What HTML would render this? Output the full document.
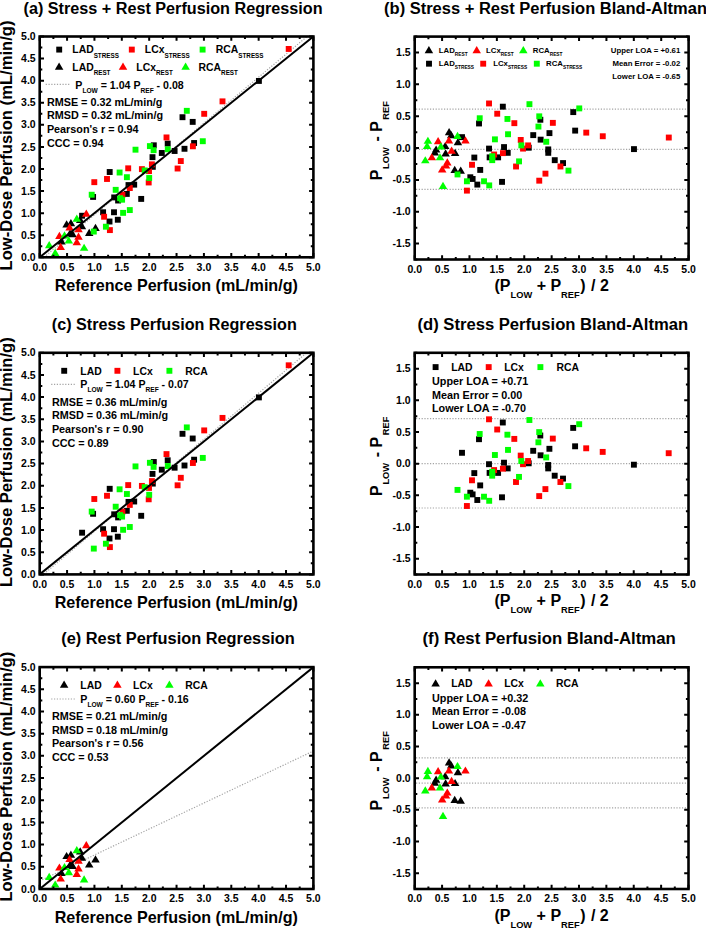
<!DOCTYPE html><html><head><meta charset="utf-8"><style>html,body{margin:0;padding:0;background:#fff;}body{width:706px;height:928px;overflow:hidden;}svg{display:block;}</style></head><body>
<svg width="706" height="928" viewBox="0 0 706 928" font-family='"Liberation Sans", sans-serif'>
<rect width="706" height="928" fill="#fff"/>
<defs>
<clipPath id="clipa"><rect x="39.7" y="36.5" width="273.70" height="220.80"/></clipPath>
<clipPath id="clipb"><rect x="414.7" y="36.6" width="273.90" height="222.90"/></clipPath>
<clipPath id="clipc"><rect x="39.7" y="352.8" width="273.70" height="221.60"/></clipPath>
<clipPath id="clipd"><rect x="414.7" y="352.8" width="273.80" height="221.70"/></clipPath>
<clipPath id="clipe"><rect x="39.7" y="667.1" width="273.70" height="221.90"/></clipPath>
<clipPath id="clipf"><rect x="414.7" y="667.3" width="273.80" height="221.70"/></clipPath>
</defs>
<text x="23.5" y="14.4" font-size="16" font-weight="bold" textLength="299.1" lengthAdjust="spacingAndGlyphs">(a) Stress + Rest Perfusion Regression</text>
<text x="176.25" y="291.10" font-size="16.1" font-weight="bold" text-anchor="middle">Reference Perfusion (mL/min/g)</text>
<text transform="translate(12.40,145.50) rotate(-90)" font-size="16.6" font-weight="bold" text-anchor="middle">Low-Dose Perfusion (mL/min/g)</text>
<g font-size="10" font-weight="bold"><text transform="translate(39.70,270.50) scale(1.05,1)" text-anchor="middle">0.0</text><text transform="translate(67.07,270.50) scale(1.05,1)" text-anchor="middle">0.5</text><text transform="translate(94.44,270.50) scale(1.05,1)" text-anchor="middle">1.0</text><text transform="translate(121.81,270.50) scale(1.05,1)" text-anchor="middle">1.5</text><text transform="translate(149.18,270.50) scale(1.05,1)" text-anchor="middle">2.0</text><text transform="translate(176.55,270.50) scale(1.05,1)" text-anchor="middle">2.5</text><text transform="translate(203.92,270.50) scale(1.05,1)" text-anchor="middle">3.0</text><text transform="translate(231.29,270.50) scale(1.05,1)" text-anchor="middle">3.5</text><text transform="translate(258.66,270.50) scale(1.05,1)" text-anchor="middle">4.0</text><text transform="translate(286.03,270.50) scale(1.05,1)" text-anchor="middle">4.5</text><text transform="translate(313.40,270.50) scale(1.05,1)" text-anchor="middle">5.0</text><text transform="translate(35.70,260.90) scale(1.05,1)" text-anchor="end">0.0</text><text transform="translate(35.70,238.82) scale(1.05,1)" text-anchor="end">0.5</text><text transform="translate(35.70,216.74) scale(1.05,1)" text-anchor="end">1.0</text><text transform="translate(35.70,194.66) scale(1.05,1)" text-anchor="end">1.5</text><text transform="translate(35.70,172.58) scale(1.05,1)" text-anchor="end">2.0</text><text transform="translate(35.70,150.50) scale(1.05,1)" text-anchor="end">2.5</text><text transform="translate(35.70,128.42) scale(1.05,1)" text-anchor="end">3.0</text><text transform="translate(35.70,106.34) scale(1.05,1)" text-anchor="end">3.5</text><text transform="translate(35.70,84.26) scale(1.05,1)" text-anchor="end">4.0</text><text transform="translate(35.70,62.18) scale(1.05,1)" text-anchor="end">4.5</text><text transform="translate(35.70,40.10) scale(1.05,1)" text-anchor="end">5.0</text></g>
<text x="384.1" y="14.4" font-size="16" font-weight="bold" textLength="322.9" lengthAdjust="spacingAndGlyphs">(b) Stress + Rest Perfusion Bland-Altman</text>
<text x="551.65" y="291.30" font-size="16" font-weight="bold" text-anchor="middle">(P<tspan font-size="9.3" dy="7">LOW</tspan><tspan dy="-7"> + P</tspan><tspan font-size="9.3" dy="7">REF</tspan><tspan dy="-7" dx="0.5">)</tspan><tspan dx="1"> / 2</tspan></text>
<text transform="translate(382.30,140.65) rotate(-90)" font-size="16" font-weight="bold" text-anchor="middle">P<tspan font-size="9.3" dy="7" dx="0.6">LOW</tspan><tspan dy="-7" dx="1.3"> - P</tspan><tspan font-size="9.3" dy="7" dx="1.5">REF</tspan></text>
<g font-size="10" font-weight="bold"><text transform="translate(414.70,272.70) scale(1.05,1)" text-anchor="middle">0.0</text><text transform="translate(442.09,272.70) scale(1.05,1)" text-anchor="middle">0.5</text><text transform="translate(469.48,272.70) scale(1.05,1)" text-anchor="middle">1.0</text><text transform="translate(496.87,272.70) scale(1.05,1)" text-anchor="middle">1.5</text><text transform="translate(524.26,272.70) scale(1.05,1)" text-anchor="middle">2.0</text><text transform="translate(551.65,272.70) scale(1.05,1)" text-anchor="middle">2.5</text><text transform="translate(579.04,272.70) scale(1.05,1)" text-anchor="middle">3.0</text><text transform="translate(606.43,272.70) scale(1.05,1)" text-anchor="middle">3.5</text><text transform="translate(633.82,272.70) scale(1.05,1)" text-anchor="middle">4.0</text><text transform="translate(661.21,272.70) scale(1.05,1)" text-anchor="middle">4.5</text><text transform="translate(688.60,272.70) scale(1.05,1)" text-anchor="middle">5.0</text><text transform="translate(410.70,247.18) scale(1.05,1)" text-anchor="end">-1.5</text><text transform="translate(410.70,215.34) scale(1.05,1)" text-anchor="end">-1.0</text><text transform="translate(410.70,183.49) scale(1.05,1)" text-anchor="end">-0.5</text><text transform="translate(410.70,151.65) scale(1.05,1)" text-anchor="end">0.0</text><text transform="translate(410.70,119.81) scale(1.05,1)" text-anchor="end">0.5</text><text transform="translate(410.70,87.96) scale(1.05,1)" text-anchor="end">1.0</text><text transform="translate(410.70,56.12) scale(1.05,1)" text-anchor="end">1.5</text></g>
<text x="51.8" y="329.5" font-size="16" font-weight="bold" textLength="245.0" lengthAdjust="spacingAndGlyphs">(c) Stress Perfusion Regression</text>
<text x="176.25" y="608.20" font-size="16.1" font-weight="bold" text-anchor="middle">Reference Perfusion (mL/min/g)</text>
<text transform="translate(12.40,462.20) rotate(-90)" font-size="16.6" font-weight="bold" text-anchor="middle">Low-Dose Perfusion (mL/min/g)</text>
<g font-size="10" font-weight="bold"><text transform="translate(39.70,587.60) scale(1.05,1)" text-anchor="middle">0.0</text><text transform="translate(67.07,587.60) scale(1.05,1)" text-anchor="middle">0.5</text><text transform="translate(94.44,587.60) scale(1.05,1)" text-anchor="middle">1.0</text><text transform="translate(121.81,587.60) scale(1.05,1)" text-anchor="middle">1.5</text><text transform="translate(149.18,587.60) scale(1.05,1)" text-anchor="middle">2.0</text><text transform="translate(176.55,587.60) scale(1.05,1)" text-anchor="middle">2.5</text><text transform="translate(203.92,587.60) scale(1.05,1)" text-anchor="middle">3.0</text><text transform="translate(231.29,587.60) scale(1.05,1)" text-anchor="middle">3.5</text><text transform="translate(258.66,587.60) scale(1.05,1)" text-anchor="middle">4.0</text><text transform="translate(286.03,587.60) scale(1.05,1)" text-anchor="middle">4.5</text><text transform="translate(313.40,587.60) scale(1.05,1)" text-anchor="middle">5.0</text><text transform="translate(35.70,578.00) scale(1.05,1)" text-anchor="end">0.0</text><text transform="translate(35.70,555.84) scale(1.05,1)" text-anchor="end">0.5</text><text transform="translate(35.70,533.68) scale(1.05,1)" text-anchor="end">1.0</text><text transform="translate(35.70,511.52) scale(1.05,1)" text-anchor="end">1.5</text><text transform="translate(35.70,489.36) scale(1.05,1)" text-anchor="end">2.0</text><text transform="translate(35.70,467.20) scale(1.05,1)" text-anchor="end">2.5</text><text transform="translate(35.70,445.04) scale(1.05,1)" text-anchor="end">3.0</text><text transform="translate(35.70,422.88) scale(1.05,1)" text-anchor="end">3.5</text><text transform="translate(35.70,400.72) scale(1.05,1)" text-anchor="end">4.0</text><text transform="translate(35.70,378.56) scale(1.05,1)" text-anchor="end">4.5</text><text transform="translate(35.70,356.40) scale(1.05,1)" text-anchor="end">5.0</text></g>
<text x="417.5" y="329.5" font-size="16" font-weight="bold" textLength="270.6" lengthAdjust="spacingAndGlyphs">(d) Stress Perfusion Bland-Altman</text>
<text x="551.60" y="606.30" font-size="16" font-weight="bold" text-anchor="middle">(P<tspan font-size="9.3" dy="7">LOW</tspan><tspan dy="-7"> + P</tspan><tspan font-size="9.3" dy="7">REF</tspan><tspan dy="-7" dx="0.5">)</tspan><tspan dx="1"> / 2</tspan></text>
<text transform="translate(382.30,456.25) rotate(-90)" font-size="16" font-weight="bold" text-anchor="middle">P<tspan font-size="9.3" dy="7" dx="0.6">LOW</tspan><tspan dy="-7" dx="1.3"> - P</tspan><tspan font-size="9.3" dy="7" dx="1.5">REF</tspan></text>
<g font-size="10" font-weight="bold"><text transform="translate(414.70,587.70) scale(1.05,1)" text-anchor="middle">0.0</text><text transform="translate(442.08,587.70) scale(1.05,1)" text-anchor="middle">0.5</text><text transform="translate(469.46,587.70) scale(1.05,1)" text-anchor="middle">1.0</text><text transform="translate(496.84,587.70) scale(1.05,1)" text-anchor="middle">1.5</text><text transform="translate(524.22,587.70) scale(1.05,1)" text-anchor="middle">2.0</text><text transform="translate(551.60,587.70) scale(1.05,1)" text-anchor="middle">2.5</text><text transform="translate(578.98,587.70) scale(1.05,1)" text-anchor="middle">3.0</text><text transform="translate(606.36,587.70) scale(1.05,1)" text-anchor="middle">3.5</text><text transform="translate(633.74,587.70) scale(1.05,1)" text-anchor="middle">4.0</text><text transform="translate(661.12,587.70) scale(1.05,1)" text-anchor="middle">4.5</text><text transform="translate(688.50,587.70) scale(1.05,1)" text-anchor="middle">5.0</text><text transform="translate(410.70,562.26) scale(1.05,1)" text-anchor="end">-1.5</text><text transform="translate(410.70,530.59) scale(1.05,1)" text-anchor="end">-1.0</text><text transform="translate(410.70,498.92) scale(1.05,1)" text-anchor="end">-0.5</text><text transform="translate(410.70,467.25) scale(1.05,1)" text-anchor="end">0.0</text><text transform="translate(410.70,435.58) scale(1.05,1)" text-anchor="end">0.5</text><text transform="translate(410.70,403.91) scale(1.05,1)" text-anchor="end">1.0</text><text transform="translate(410.70,372.24) scale(1.05,1)" text-anchor="end">1.5</text></g>
<text x="61.2" y="644.4" font-size="16" font-weight="bold" textLength="233.6" lengthAdjust="spacingAndGlyphs">(e) Rest Perfusion Regression</text>
<text x="176.25" y="922.80" font-size="16.1" font-weight="bold" text-anchor="middle">Reference Perfusion (mL/min/g)</text>
<text transform="translate(12.40,776.65) rotate(-90)" font-size="16.6" font-weight="bold" text-anchor="middle">Low-Dose Perfusion (mL/min/g)</text>
<g font-size="10" font-weight="bold"><text transform="translate(39.70,902.20) scale(1.05,1)" text-anchor="middle">0.0</text><text transform="translate(67.07,902.20) scale(1.05,1)" text-anchor="middle">0.5</text><text transform="translate(94.44,902.20) scale(1.05,1)" text-anchor="middle">1.0</text><text transform="translate(121.81,902.20) scale(1.05,1)" text-anchor="middle">1.5</text><text transform="translate(149.18,902.20) scale(1.05,1)" text-anchor="middle">2.0</text><text transform="translate(176.55,902.20) scale(1.05,1)" text-anchor="middle">2.5</text><text transform="translate(203.92,902.20) scale(1.05,1)" text-anchor="middle">3.0</text><text transform="translate(231.29,902.20) scale(1.05,1)" text-anchor="middle">3.5</text><text transform="translate(258.66,902.20) scale(1.05,1)" text-anchor="middle">4.0</text><text transform="translate(286.03,902.20) scale(1.05,1)" text-anchor="middle">4.5</text><text transform="translate(313.40,902.20) scale(1.05,1)" text-anchor="middle">5.0</text><text transform="translate(35.70,892.60) scale(1.05,1)" text-anchor="end">0.0</text><text transform="translate(35.70,870.41) scale(1.05,1)" text-anchor="end">0.5</text><text transform="translate(35.70,848.22) scale(1.05,1)" text-anchor="end">1.0</text><text transform="translate(35.70,826.03) scale(1.05,1)" text-anchor="end">1.5</text><text transform="translate(35.70,803.84) scale(1.05,1)" text-anchor="end">2.0</text><text transform="translate(35.70,781.65) scale(1.05,1)" text-anchor="end">2.5</text><text transform="translate(35.70,759.46) scale(1.05,1)" text-anchor="end">3.0</text><text transform="translate(35.70,737.27) scale(1.05,1)" text-anchor="end">3.5</text><text transform="translate(35.70,715.08) scale(1.05,1)" text-anchor="end">4.0</text><text transform="translate(35.70,692.89) scale(1.05,1)" text-anchor="end">4.5</text><text transform="translate(35.70,670.70) scale(1.05,1)" text-anchor="end">5.0</text></g>
<text x="422.5" y="644.4" font-size="16" font-weight="bold" textLength="253.3" lengthAdjust="spacingAndGlyphs">(f) Rest Perfusion Bland-Altman</text>
<text x="551.60" y="920.80" font-size="16" font-weight="bold" text-anchor="middle">(P<tspan font-size="9.3" dy="7">LOW</tspan><tspan dy="-7"> + P</tspan><tspan font-size="9.3" dy="7">REF</tspan><tspan dy="-7" dx="0.5">)</tspan><tspan dx="1"> / 2</tspan></text>
<text transform="translate(382.30,770.75) rotate(-90)" font-size="16" font-weight="bold" text-anchor="middle">P<tspan font-size="9.3" dy="7" dx="0.6">LOW</tspan><tspan dy="-7" dx="1.3"> - P</tspan><tspan font-size="9.3" dy="7" dx="1.5">REF</tspan></text>
<g font-size="10" font-weight="bold"><text transform="translate(414.70,902.20) scale(1.05,1)" text-anchor="middle">0.0</text><text transform="translate(442.08,902.20) scale(1.05,1)" text-anchor="middle">0.5</text><text transform="translate(469.46,902.20) scale(1.05,1)" text-anchor="middle">1.0</text><text transform="translate(496.84,902.20) scale(1.05,1)" text-anchor="middle">1.5</text><text transform="translate(524.22,902.20) scale(1.05,1)" text-anchor="middle">2.0</text><text transform="translate(551.60,902.20) scale(1.05,1)" text-anchor="middle">2.5</text><text transform="translate(578.98,902.20) scale(1.05,1)" text-anchor="middle">3.0</text><text transform="translate(606.36,902.20) scale(1.05,1)" text-anchor="middle">3.5</text><text transform="translate(633.74,902.20) scale(1.05,1)" text-anchor="middle">4.0</text><text transform="translate(661.12,902.20) scale(1.05,1)" text-anchor="middle">4.5</text><text transform="translate(688.50,902.20) scale(1.05,1)" text-anchor="middle">5.0</text><text transform="translate(410.70,876.76) scale(1.05,1)" text-anchor="end">-1.5</text><text transform="translate(410.70,845.09) scale(1.05,1)" text-anchor="end">-1.0</text><text transform="translate(410.70,813.42) scale(1.05,1)" text-anchor="end">-0.5</text><text transform="translate(410.70,781.75) scale(1.05,1)" text-anchor="end">0.0</text><text transform="translate(410.70,750.08) scale(1.05,1)" text-anchor="end">0.5</text><text transform="translate(410.70,718.41) scale(1.05,1)" text-anchor="end">1.0</text><text transform="translate(410.70,686.74) scale(1.05,1)" text-anchor="end">1.5</text></g>
<g clip-path="url(#clipa)">
<line x1="39.70" y1="260.83" x2="313.40" y2="31.20" stroke="#a4a4a4" stroke-width="1.2" stroke-dasharray="1.2 1.6" fill="none"/>
</g>
<rect x="79.15" y="212.80" width="5.9" height="5.9" fill="#000000"/><rect x="90.15" y="193.97" width="5.9" height="5.9" fill="#000000"/><rect x="106.75" y="169.06" width="5.9" height="5.9" fill="#000000"/><rect x="125.55" y="182.11" width="5.9" height="5.9" fill="#000000"/><rect x="131.25" y="181.71" width="5.9" height="5.9" fill="#000000"/><rect x="111.25" y="194.47" width="5.9" height="5.9" fill="#000000"/><rect x="123.85" y="190.98" width="5.9" height="5.9" fill="#000000"/><rect x="115.15" y="197.56" width="5.9" height="5.9" fill="#000000"/><rect x="138.25" y="195.96" width="5.9" height="5.9" fill="#000000"/><rect x="100.15" y="209.31" width="5.9" height="5.9" fill="#000000"/><rect x="111.05" y="209.31" width="5.9" height="5.9" fill="#000000"/><rect x="106.55" y="218.58" width="5.9" height="5.9" fill="#000000"/><rect x="114.85" y="216.79" width="5.9" height="5.9" fill="#000000"/><rect x="164.75" y="140.66" width="5.9" height="5.9" fill="#000000"/><rect x="150.85" y="142.36" width="5.9" height="5.9" fill="#000000"/><rect x="158.85" y="150.03" width="5.9" height="5.9" fill="#000000"/><rect x="171.65" y="148.04" width="5.9" height="5.9" fill="#000000"/><rect x="181.55" y="145.84" width="5.9" height="5.9" fill="#000000"/><rect x="191.15" y="140.06" width="5.9" height="5.9" fill="#000000"/><rect x="149.55" y="154.21" width="5.9" height="5.9" fill="#000000"/><rect x="149.85" y="163.88" width="5.9" height="5.9" fill="#000000"/><rect x="179.55" y="114.26" width="5.9" height="5.9" fill="#000000"/><rect x="189.75" y="118.94" width="5.9" height="5.9" fill="#000000"/><rect x="255.95" y="77.99" width="5.9" height="5.9" fill="#000000"/>
<path d="M80.20 215.69L84.45 222.89L75.95 222.89Z" fill="#000000"/><path d="M66.60 220.37L70.85 227.57L62.35 227.57Z" fill="#000000"/><path d="M70.90 219.07L75.15 226.27L66.65 226.27Z" fill="#000000"/><path d="M81.90 222.06L86.15 229.26L77.65 229.26Z" fill="#000000"/><path d="M95.50 223.75L99.75 230.95L91.25 230.95Z" fill="#000000"/><path d="M89.20 228.82L93.45 236.02L84.95 236.02Z" fill="#000000"/><path d="M70.00 229.22L74.25 236.42L65.75 236.42Z" fill="#000000"/><path d="M72.60 230.12L76.85 237.32L68.35 237.32Z" fill="#000000"/><path d="M61.50 237.28L65.75 244.48L57.25 244.48Z" fill="#000000"/>
<rect x="91.35" y="179.22" width="5.9" height="5.9" fill="#ff0000"/><rect x="104.05" y="176.03" width="5.9" height="5.9" fill="#ff0000"/><rect x="125.25" y="165.37" width="5.9" height="5.9" fill="#ff0000"/><rect x="138.95" y="166.17" width="5.9" height="5.9" fill="#ff0000"/><rect x="126.85" y="185.10" width="5.9" height="5.9" fill="#ff0000"/><rect x="119.45" y="191.78" width="5.9" height="5.9" fill="#ff0000"/><rect x="101.15" y="213.80" width="5.9" height="5.9" fill="#ff0000"/><rect x="106.95" y="227.15" width="5.9" height="5.9" fill="#ff0000"/><rect x="163.55" y="134.48" width="5.9" height="5.9" fill="#ff0000"/><rect x="189.95" y="143.35" width="5.9" height="5.9" fill="#ff0000"/><rect x="177.85" y="158.10" width="5.9" height="5.9" fill="#ff0000"/><rect x="174.65" y="165.57" width="5.9" height="5.9" fill="#ff0000"/><rect x="148.95" y="161.39" width="5.9" height="5.9" fill="#ff0000"/><rect x="145.75" y="179.52" width="5.9" height="5.9" fill="#ff0000"/><rect x="201.25" y="110.87" width="5.9" height="5.9" fill="#ff0000"/><rect x="219.55" y="98.41" width="5.9" height="5.9" fill="#ff0000"/><rect x="285.75" y="46.00" width="5.9" height="5.9" fill="#ff0000"/><rect x="146.05" y="168.16" width="5.9" height="5.9" fill="#ff0000"/>
<path d="M86.30 209.52L90.55 216.72L82.05 216.72Z" fill="#ff0000"/><path d="M69.60 223.35L73.85 230.55L65.35 230.55Z" fill="#ff0000"/><path d="M78.50 225.04L82.75 232.24L74.25 232.24Z" fill="#ff0000"/><path d="M59.40 231.81L63.65 239.01L55.15 239.01Z" fill="#ff0000"/><path d="M78.50 232.61L82.75 239.81L74.25 239.81Z" fill="#ff0000"/><path d="M76.80 238.08L81.05 245.28L72.55 245.28Z" fill="#ff0000"/><path d="M60.70 242.75L64.95 249.95L56.45 249.95Z" fill="#ff0000"/>
<rect x="88.75" y="191.78" width="5.9" height="5.9" fill="#00ff00"/><rect x="116.65" y="169.56" width="5.9" height="5.9" fill="#00ff00"/><rect x="123.95" y="174.24" width="5.9" height="5.9" fill="#00ff00"/><rect x="141.75" y="167.46" width="5.9" height="5.9" fill="#00ff00"/><rect x="112.75" y="186.89" width="5.9" height="5.9" fill="#00ff00"/><rect x="117.15" y="195.26" width="5.9" height="5.9" fill="#00ff00"/><rect x="119.15" y="196.76" width="5.9" height="5.9" fill="#00ff00"/><rect x="120.15" y="209.91" width="5.9" height="5.9" fill="#00ff00"/><rect x="126.85" y="207.12" width="5.9" height="5.9" fill="#00ff00"/><rect x="102.95" y="223.76" width="5.9" height="5.9" fill="#00ff00"/><rect x="90.85" y="228.64" width="5.9" height="5.9" fill="#00ff00"/><rect x="146.95" y="143.15" width="5.9" height="5.9" fill="#00ff00"/><rect x="150.65" y="147.24" width="5.9" height="5.9" fill="#00ff00"/><rect x="164.85" y="146.34" width="5.9" height="5.9" fill="#00ff00"/><rect x="146.25" y="175.04" width="5.9" height="5.9" fill="#00ff00"/><rect x="183.85" y="107.88" width="5.9" height="5.9" fill="#00ff00"/><rect x="199.85" y="138.27" width="5.9" height="5.9" fill="#00ff00"/><rect x="132.55" y="146.74" width="5.9" height="5.9" fill="#00ff00"/>
<path d="M76.80 214.59L81.05 221.79L72.55 221.79Z" fill="#00ff00"/><path d="M64.50 231.31L68.75 238.51L60.25 238.51Z" fill="#00ff00"/><path d="M68.80 236.39L73.05 243.59L64.55 243.59Z" fill="#00ff00"/><path d="M49.20 241.06L53.45 248.26L44.95 248.26Z" fill="#00ff00"/><path d="M84.10 243.65L88.35 250.85L79.85 250.85Z" fill="#00ff00"/><path d="M55.20 248.72L59.45 255.92L50.95 255.92Z" fill="#00ff00"/>
<g clip-path="url(#clipa)">
<line x1="39.70" y1="257.30" x2="313.40" y2="36.50" stroke="#000" stroke-width="2"/>
</g>
<rect x="56.25" y="46.65" width="5.9" height="5.9" fill="#000000"/><rect x="128.85" y="46.65" width="5.9" height="5.9" fill="#ff0000"/><rect x="199.65" y="46.65" width="5.9" height="5.9" fill="#00ff00"/>
<text x="72.30" y="53.30" font-size="10.4" font-weight="bold">LAD<tspan font-size="6.3" dy="4.4">STRESS</tspan></text>
<text x="144.80" y="53.30" font-size="10.4" font-weight="bold">LCx<tspan font-size="6.3" dy="4.4">STRESS</tspan></text>
<text x="215.80" y="53.30" font-size="10.4" font-weight="bold">RCA<tspan font-size="6.3" dy="4.4">STRESS</tspan></text>
<path d="M59.10 62.60L63.35 69.80L54.85 69.80Z" fill="#000000"/><path d="M123.00 62.60L127.25 69.80L118.75 69.80Z" fill="#ff0000"/><path d="M185.60 62.60L189.85 69.80L181.35 69.80Z" fill="#00ff00"/>
<text x="72.30" y="70.90" font-size="10.4" font-weight="bold">LAD<tspan font-size="6.3" dy="4.4">REST</tspan></text>
<text x="136.30" y="70.90" font-size="10.4" font-weight="bold">LCx<tspan font-size="6.3" dy="4.4">REST</tspan></text>
<text x="198.60" y="70.90" font-size="10.4" font-weight="bold">RCA<tspan font-size="6.3" dy="4.4">REST</tspan></text>
<line x1="45.7" y1="84.4" x2="70.0" y2="84.4" stroke="#a4a4a4" stroke-width="1.2" stroke-dasharray="1.2 1.6" fill="none"/>
<text x="75.30" y="88.50" font-size="10.6" font-weight="bold">P<tspan font-size="6.6" dy="4.3">LOW</tspan><tspan dy="-4.3"> = 1.04 P</tspan><tspan font-size="6.6" dy="4.3">REF</tspan><tspan dy="-4.3"> - 0.08</tspan></text>
<text x="46.90" y="105.80" font-size="10.8" font-weight="bold">RMSE = 0.32 mL/min/g</text>
<text x="46.90" y="119.40" font-size="10.8" font-weight="bold">RMSD = 0.32 mL/min/g</text>
<text x="46.90" y="132.70" font-size="10.8" font-weight="bold">Pearson's r = 0.94</text>
<text x="46.90" y="146.60" font-size="10.8" font-weight="bold">CCC = 0.94</text>
<g clip-path="url(#clipc)">
<line x1="39.70" y1="577.50" x2="313.40" y2="347.04" stroke="#a4a4a4" stroke-width="1.2" stroke-dasharray="1.2 1.6" fill="none"/>
</g>
<rect x="79.15" y="529.75" width="5.9" height="5.9" fill="#000000"/><rect x="90.15" y="510.85" width="5.9" height="5.9" fill="#000000"/><rect x="106.75" y="485.85" width="5.9" height="5.9" fill="#000000"/><rect x="125.55" y="498.95" width="5.9" height="5.9" fill="#000000"/><rect x="131.25" y="498.55" width="5.9" height="5.9" fill="#000000"/><rect x="111.25" y="511.35" width="5.9" height="5.9" fill="#000000"/><rect x="123.85" y="507.85" width="5.9" height="5.9" fill="#000000"/><rect x="115.15" y="514.45" width="5.9" height="5.9" fill="#000000"/><rect x="138.25" y="512.85" width="5.9" height="5.9" fill="#000000"/><rect x="100.15" y="526.25" width="5.9" height="5.9" fill="#000000"/><rect x="111.05" y="526.25" width="5.9" height="5.9" fill="#000000"/><rect x="106.55" y="535.55" width="5.9" height="5.9" fill="#000000"/><rect x="114.85" y="533.75" width="5.9" height="5.9" fill="#000000"/><rect x="164.75" y="457.35" width="5.9" height="5.9" fill="#000000"/><rect x="150.85" y="459.05" width="5.9" height="5.9" fill="#000000"/><rect x="158.85" y="466.75" width="5.9" height="5.9" fill="#000000"/><rect x="171.65" y="464.75" width="5.9" height="5.9" fill="#000000"/><rect x="181.55" y="462.55" width="5.9" height="5.9" fill="#000000"/><rect x="191.15" y="456.75" width="5.9" height="5.9" fill="#000000"/><rect x="149.55" y="470.95" width="5.9" height="5.9" fill="#000000"/><rect x="149.85" y="480.65" width="5.9" height="5.9" fill="#000000"/><rect x="179.55" y="430.85" width="5.9" height="5.9" fill="#000000"/><rect x="189.75" y="435.55" width="5.9" height="5.9" fill="#000000"/><rect x="255.95" y="394.45" width="5.9" height="5.9" fill="#000000"/>
<rect x="91.35" y="496.05" width="5.9" height="5.9" fill="#ff0000"/><rect x="104.05" y="492.85" width="5.9" height="5.9" fill="#ff0000"/><rect x="125.25" y="482.15" width="5.9" height="5.9" fill="#ff0000"/><rect x="138.95" y="482.95" width="5.9" height="5.9" fill="#ff0000"/><rect x="126.85" y="501.95" width="5.9" height="5.9" fill="#ff0000"/><rect x="119.45" y="508.65" width="5.9" height="5.9" fill="#ff0000"/><rect x="101.15" y="530.75" width="5.9" height="5.9" fill="#ff0000"/><rect x="106.95" y="544.15" width="5.9" height="5.9" fill="#ff0000"/><rect x="163.55" y="451.15" width="5.9" height="5.9" fill="#ff0000"/><rect x="189.95" y="460.05" width="5.9" height="5.9" fill="#ff0000"/><rect x="177.85" y="474.85" width="5.9" height="5.9" fill="#ff0000"/><rect x="174.65" y="482.35" width="5.9" height="5.9" fill="#ff0000"/><rect x="148.95" y="478.15" width="5.9" height="5.9" fill="#ff0000"/><rect x="145.75" y="496.35" width="5.9" height="5.9" fill="#ff0000"/><rect x="201.25" y="427.45" width="5.9" height="5.9" fill="#ff0000"/><rect x="219.55" y="414.95" width="5.9" height="5.9" fill="#ff0000"/><rect x="285.75" y="362.35" width="5.9" height="5.9" fill="#ff0000"/><rect x="146.05" y="484.95" width="5.9" height="5.9" fill="#ff0000"/>
<rect x="88.75" y="508.65" width="5.9" height="5.9" fill="#00ff00"/><rect x="116.65" y="486.35" width="5.9" height="5.9" fill="#00ff00"/><rect x="123.95" y="491.05" width="5.9" height="5.9" fill="#00ff00"/><rect x="141.75" y="484.25" width="5.9" height="5.9" fill="#00ff00"/><rect x="112.75" y="503.75" width="5.9" height="5.9" fill="#00ff00"/><rect x="117.15" y="512.15" width="5.9" height="5.9" fill="#00ff00"/><rect x="119.15" y="513.65" width="5.9" height="5.9" fill="#00ff00"/><rect x="120.15" y="526.85" width="5.9" height="5.9" fill="#00ff00"/><rect x="126.85" y="524.05" width="5.9" height="5.9" fill="#00ff00"/><rect x="102.95" y="540.75" width="5.9" height="5.9" fill="#00ff00"/><rect x="90.85" y="545.65" width="5.9" height="5.9" fill="#00ff00"/><rect x="146.95" y="459.85" width="5.9" height="5.9" fill="#00ff00"/><rect x="150.65" y="463.95" width="5.9" height="5.9" fill="#00ff00"/><rect x="164.85" y="463.05" width="5.9" height="5.9" fill="#00ff00"/><rect x="146.25" y="491.85" width="5.9" height="5.9" fill="#00ff00"/><rect x="183.85" y="424.45" width="5.9" height="5.9" fill="#00ff00"/><rect x="199.85" y="454.95" width="5.9" height="5.9" fill="#00ff00"/><rect x="132.55" y="463.45" width="5.9" height="5.9" fill="#00ff00"/>
<g clip-path="url(#clipc)">
<line x1="39.70" y1="574.40" x2="313.40" y2="352.80" stroke="#000" stroke-width="2"/>
</g>
<rect x="61.25" y="367.85" width="5.9" height="5.9" fill="#000000"/><rect x="114.45" y="367.85" width="5.9" height="5.9" fill="#ff0000"/><rect x="166.45" y="367.85" width="5.9" height="5.9" fill="#00ff00"/>
<text x="80.30" y="374.90" font-size="10.4" font-weight="bold">LAD</text><text x="133.10" y="374.90" font-size="10.4" font-weight="bold">LCx</text><text x="185.30" y="374.90" font-size="10.4" font-weight="bold">RCA</text>
<line x1="51.2" y1="384.4" x2="75.0" y2="384.4" stroke="#a4a4a4" stroke-width="1.2" stroke-dasharray="1.2 1.6" fill="none"/>
<text x="80.30" y="388.10" font-size="10.6" font-weight="bold">P<tspan font-size="6.6" dy="4.3">LOW</tspan><tspan dy="-4.3"> = 1.04 P</tspan><tspan font-size="6.6" dy="4.3">REF</tspan><tspan dy="-4.3"> - 0.07</tspan></text>
<text x="51.90" y="405.80" font-size="10.8" font-weight="bold">RMSE = 0.36 mL/min/g</text>
<text x="51.90" y="419.40" font-size="10.8" font-weight="bold">RMSD = 0.36 mL/min/g</text>
<text x="51.90" y="432.70" font-size="10.8" font-weight="bold">Pearson's r = 0.90</text>
<text x="51.90" y="446.60" font-size="10.8" font-weight="bold">CCC = 0.89</text>
<g clip-path="url(#clipe)">
<line x1="39.70" y1="881.01" x2="313.40" y2="750.98" stroke="#a4a4a4" stroke-width="1.2" stroke-dasharray="1.2 1.6" fill="none"/>
</g>
<path d="M80.20 847.20L84.45 854.40L75.95 854.40Z" fill="#000000"/><path d="M66.60 851.90L70.85 859.10L62.35 859.10Z" fill="#000000"/><path d="M70.90 850.60L75.15 857.80L66.65 857.80Z" fill="#000000"/><path d="M81.90 853.60L86.15 860.80L77.65 860.80Z" fill="#000000"/><path d="M95.50 855.30L99.75 862.50L91.25 862.50Z" fill="#000000"/><path d="M89.20 860.40L93.45 867.60L84.95 867.60Z" fill="#000000"/><path d="M70.00 860.80L74.25 868.00L65.75 868.00Z" fill="#000000"/><path d="M72.60 861.70L76.85 868.90L68.35 868.90Z" fill="#000000"/><path d="M61.50 868.90L65.75 876.10L57.25 876.10Z" fill="#000000"/>
<path d="M86.30 841.00L90.55 848.20L82.05 848.20Z" fill="#ff0000"/><path d="M69.60 854.90L73.85 862.10L65.35 862.10Z" fill="#ff0000"/><path d="M78.50 856.60L82.75 863.80L74.25 863.80Z" fill="#ff0000"/><path d="M59.40 863.40L63.65 870.60L55.15 870.60Z" fill="#ff0000"/><path d="M78.50 864.20L82.75 871.40L74.25 871.40Z" fill="#ff0000"/><path d="M76.80 869.70L81.05 876.90L72.55 876.90Z" fill="#ff0000"/><path d="M60.70 874.40L64.95 881.60L56.45 881.60Z" fill="#ff0000"/>
<path d="M76.80 846.10L81.05 853.30L72.55 853.30Z" fill="#00ff00"/><path d="M64.50 862.90L68.75 870.10L60.25 870.10Z" fill="#00ff00"/><path d="M68.80 868.00L73.05 875.20L64.55 875.20Z" fill="#00ff00"/><path d="M49.20 872.70L53.45 879.90L44.95 879.90Z" fill="#00ff00"/><path d="M84.10 875.30L88.35 882.50L79.85 882.50Z" fill="#00ff00"/><path d="M55.20 880.40L59.45 887.60L50.95 887.60Z" fill="#00ff00"/>
<g clip-path="url(#clipe)">
<line x1="39.70" y1="889.00" x2="313.40" y2="667.10" stroke="#000" stroke-width="2"/>
</g>
<path d="M64.10 680.60L68.35 687.80L59.85 687.80Z" fill="#000000"/><path d="M117.40 680.60L121.65 687.80L113.15 687.80Z" fill="#ff0000"/><path d="M169.40 680.60L173.65 687.80L165.15 687.80Z" fill="#00ff00"/>
<text x="80.30" y="689.10" font-size="10.4" font-weight="bold">LAD</text><text x="133.10" y="689.10" font-size="10.4" font-weight="bold">LCx</text><text x="185.30" y="689.10" font-size="10.4" font-weight="bold">RCA</text>
<line x1="51.2" y1="699.0" x2="75.0" y2="699.0" stroke="#a4a4a4" stroke-width="1.2" stroke-dasharray="1.2 1.6" fill="none"/>
<text x="80.30" y="702.60" font-size="10.6" font-weight="bold">P<tspan font-size="6.6" dy="4.3">LOW</tspan><tspan dy="-4.3"> = 0.60 P</tspan><tspan font-size="6.6" dy="4.3">REF</tspan><tspan dy="-4.3"> - 0.16</tspan></text>
<text x="51.90" y="720.10" font-size="10.8" font-weight="bold">RMSE = 0.21 mL/min/g</text>
<text x="51.90" y="733.60" font-size="10.8" font-weight="bold">RMSD = 0.18 mL/min/g</text>
<text x="51.90" y="747.10" font-size="10.8" font-weight="bold">Pearson's r = 0.56</text>
<text x="51.90" y="760.70" font-size="10.8" font-weight="bold">CCC = 0.53</text>
<line x1="416.00" y1="109.20" x2="687.30" y2="109.20" stroke="#a4a4a4" stroke-width="1.2" stroke-dasharray="1.2 1.6" fill="none"/>
<line x1="416.00" y1="149.32" x2="687.30" y2="149.32" stroke="#a4a4a4" stroke-width="1.2" stroke-dasharray="1.2 1.6" fill="none"/>
<line x1="416.00" y1="189.45" x2="687.30" y2="189.45" stroke="#a4a4a4" stroke-width="1.2" stroke-dasharray="1.2 1.6" fill="none"/>
<rect x="499.88" y="103.73" width="5.9" height="5.9" fill="#000000"/><rect x="476.07" y="120.52" width="5.9" height="5.9" fill="#000000"/><rect x="459.07" y="134.19" width="5.9" height="5.9" fill="#000000"/><rect x="530.29" y="132.18" width="5.9" height="5.9" fill="#000000"/><rect x="525.79" y="144.75" width="5.9" height="5.9" fill="#000000"/><rect x="486.08" y="145.65" width="5.9" height="5.9" fill="#000000"/><rect x="501.08" y="144.14" width="5.9" height="5.9" fill="#000000"/><rect x="504.78" y="149.88" width="5.9" height="5.9" fill="#000000"/><rect x="495.18" y="154.40" width="5.9" height="5.9" fill="#000000"/><rect x="486.68" y="154.40" width="5.9" height="5.9" fill="#000000"/><rect x="471.37" y="154.60" width="5.9" height="5.9" fill="#000000"/><rect x="477.27" y="166.97" width="5.9" height="5.9" fill="#000000"/><rect x="467.37" y="174.31" width="5.9" height="5.9" fill="#000000"/><rect x="469.67" y="176.02" width="5.9" height="5.9" fill="#000000"/><rect x="474.37" y="181.65" width="5.9" height="5.9" fill="#000000"/><rect x="499.08" y="178.93" width="5.9" height="5.9" fill="#000000"/><rect x="570.31" y="109.16" width="5.9" height="5.9" fill="#000000"/><rect x="537.40" y="116.80" width="5.9" height="5.9" fill="#000000"/><rect x="572.21" y="127.66" width="5.9" height="5.9" fill="#000000"/><rect x="546.50" y="130.17" width="5.9" height="5.9" fill="#000000"/><rect x="537.70" y="136.70" width="5.9" height="5.9" fill="#000000"/><rect x="545.30" y="146.46" width="5.9" height="5.9" fill="#000000"/><rect x="545.30" y="149.88" width="5.9" height="5.9" fill="#000000"/><rect x="551.80" y="157.22" width="5.9" height="5.9" fill="#000000"/><rect x="560.10" y="160.13" width="5.9" height="5.9" fill="#000000"/><rect x="631.03" y="146.16" width="5.9" height="5.9" fill="#000000"/>
<path d="M449.11 128.01L453.36 135.21L444.86 135.21Z" fill="#000000"/><path d="M451.21 131.03L455.46 138.23L446.96 138.23Z" fill="#000000"/><path d="M457.92 137.97L462.17 145.17L453.67 145.17Z" fill="#000000"/><path d="M445.21 141.89L449.46 149.09L440.96 149.09Z" fill="#000000"/><path d="M436.11 145.41L440.36 152.61L431.86 152.61Z" fill="#000000"/><path d="M434.81 148.42L439.06 155.62L430.56 155.62Z" fill="#000000"/><path d="M445.61 149.23L449.86 156.43L441.36 156.43Z" fill="#000000"/><path d="M455.11 148.82L459.36 156.02L450.86 156.02Z" fill="#000000"/><path d="M454.71 165.71L458.96 172.91L450.46 172.91Z" fill="#000000"/><path d="M460.72 166.62L464.97 173.82L456.47 173.82Z" fill="#000000"/>
<rect x="486.08" y="100.51" width="5.9" height="5.9" fill="#ff0000"/><rect x="494.28" y="110.77" width="5.9" height="5.9" fill="#ff0000"/><rect x="511.39" y="120.22" width="5.9" height="5.9" fill="#ff0000"/><rect x="517.79" y="137.01" width="5.9" height="5.9" fill="#ff0000"/><rect x="525.19" y="142.44" width="5.9" height="5.9" fill="#ff0000"/><rect x="520.09" y="145.65" width="5.9" height="5.9" fill="#ff0000"/><rect x="499.98" y="150.18" width="5.9" height="5.9" fill="#ff0000"/><rect x="491.18" y="151.58" width="5.9" height="5.9" fill="#ff0000"/><rect x="469.07" y="161.84" width="5.9" height="5.9" fill="#ff0000"/><rect x="513.09" y="163.55" width="5.9" height="5.9" fill="#ff0000"/><rect x="463.97" y="187.68" width="5.9" height="5.9" fill="#ff0000"/><rect x="549.90" y="119.91" width="5.9" height="5.9" fill="#ff0000"/><rect x="583.31" y="129.67" width="5.9" height="5.9" fill="#ff0000"/><rect x="599.82" y="133.29" width="5.9" height="5.9" fill="#ff0000"/><rect x="557.50" y="163.55" width="5.9" height="5.9" fill="#ff0000"/><rect x="542.50" y="170.69" width="5.9" height="5.9" fill="#ff0000"/><rect x="536.30" y="177.73" width="5.9" height="5.9" fill="#ff0000"/><rect x="665.84" y="134.59" width="5.9" height="5.9" fill="#ff0000"/>
<path d="M438.11 136.96L442.36 144.16L433.86 144.16Z" fill="#ff0000"/><path d="M448.91 136.26L453.16 143.46L444.66 143.46Z" fill="#ff0000"/><path d="M465.42 136.26L469.67 143.46L461.17 143.46Z" fill="#ff0000"/><path d="M451.61 146.61L455.86 153.81L447.36 153.81Z" fill="#ff0000"/><path d="M431.81 153.15L436.06 160.35L427.56 160.35Z" fill="#ff0000"/><path d="M447.31 158.37L451.56 165.57L443.06 165.57Z" fill="#ff0000"/><path d="M446.01 161.39L450.26 168.59L441.76 168.59Z" fill="#ff0000"/><path d="M442.21 165.31L446.46 172.51L437.96 172.51Z" fill="#ff0000"/>
<rect x="526.49" y="101.21" width="5.9" height="5.9" fill="#00ff00"/><rect x="476.77" y="115.29" width="5.9" height="5.9" fill="#00ff00"/><rect x="504.48" y="115.99" width="5.9" height="5.9" fill="#00ff00"/><rect x="505.08" y="131.28" width="5.9" height="5.9" fill="#00ff00"/><rect x="491.98" y="136.40" width="5.9" height="5.9" fill="#00ff00"/><rect x="518.39" y="142.44" width="5.9" height="5.9" fill="#00ff00"/><rect x="489.28" y="153.29" width="5.9" height="5.9" fill="#00ff00"/><rect x="489.28" y="157.22" width="5.9" height="5.9" fill="#00ff00"/><rect x="454.57" y="171.49" width="5.9" height="5.9" fill="#00ff00"/><rect x="463.97" y="178.33" width="5.9" height="5.9" fill="#00ff00"/><rect x="481.08" y="178.33" width="5.9" height="5.9" fill="#00ff00"/><rect x="486.28" y="182.45" width="5.9" height="5.9" fill="#00ff00"/><rect x="516.09" y="158.42" width="5.9" height="5.9" fill="#00ff00"/><rect x="576.31" y="105.44" width="5.9" height="5.9" fill="#00ff00"/><rect x="536.30" y="113.38" width="5.9" height="5.9" fill="#00ff00"/><rect x="535.50" y="123.63" width="5.9" height="5.9" fill="#00ff00"/><rect x="543.30" y="138.82" width="5.9" height="5.9" fill="#00ff00"/><rect x="565.51" y="167.67" width="5.9" height="5.9" fill="#00ff00"/>
<path d="M457.52 131.73L461.77 138.93L453.27 138.93Z" fill="#00ff00"/><path d="M427.90 136.66L432.15 143.86L423.65 143.86Z" fill="#00ff00"/><path d="M427.10 141.89L431.35 149.09L422.85 149.09Z" fill="#00ff00"/><path d="M440.91 142.29L445.16 149.49L436.66 149.49Z" fill="#00ff00"/><path d="M440.01 153.15L444.26 160.35L435.76 160.35Z" fill="#00ff00"/><path d="M425.30 156.16L429.55 163.36L421.05 163.36Z" fill="#00ff00"/><path d="M443.01 181.80L447.26 189.00L438.76 189.00Z" fill="#00ff00"/>
<path d="M428.90 46.00L433.15 53.20L424.65 53.20Z" fill="#000000"/><path d="M476.70 46.00L480.95 53.20L472.45 53.20Z" fill="#ff0000"/><path d="M523.30 46.00L527.55 53.20L519.05 53.20Z" fill="#00ff00"/>
<text x="438.80" y="53.00" font-size="7.8" font-weight="bold">LAD<tspan font-size="4.8" dy="3.3">REST</tspan></text>
<text x="486.10" y="53.00" font-size="7.8" font-weight="bold">LCx<tspan font-size="4.8" dy="3.3">REST</tspan></text>
<text x="532.80" y="53.00" font-size="7.8" font-weight="bold">RCA<tspan font-size="4.8" dy="3.3">REST</tspan></text>
<rect x="426.05" y="60.75" width="5.9" height="5.9" fill="#000000"/><rect x="480.25" y="60.75" width="5.9" height="5.9" fill="#ff0000"/><rect x="533.85" y="60.75" width="5.9" height="5.9" fill="#00ff00"/>
<text x="438.80" y="66.00" font-size="7.8" font-weight="bold">LAD<tspan font-size="4.8" dy="3.3">STRESS</tspan></text>
<text x="493.20" y="66.00" font-size="7.8" font-weight="bold">LCx<tspan font-size="4.8" dy="3.3">STRESS</tspan></text>
<text x="546.10" y="66.00" font-size="7.8" font-weight="bold">RCA<tspan font-size="4.8" dy="3.3">STRESS</tspan></text>
<text x="680.30" y="52.90" font-size="7.8" font-weight="bold" text-anchor="end">Upper LOA = +0.61</text>
<text x="680.30" y="65.90" font-size="7.8" font-weight="bold" text-anchor="end">Mean Error = -0.02</text>
<text x="680.30" y="79.00" font-size="7.8" font-weight="bold" text-anchor="end">Lower LOA = -0.65</text>
<line x1="416.00" y1="418.68" x2="687.20" y2="418.68" stroke="#a4a4a4" stroke-width="1.2" stroke-dasharray="1.2 1.6" fill="none"/>
<line x1="416.00" y1="463.65" x2="687.20" y2="463.65" stroke="#a4a4a4" stroke-width="1.2" stroke-dasharray="1.2 1.6" fill="none"/>
<line x1="416.00" y1="507.99" x2="687.20" y2="507.99" stroke="#a4a4a4" stroke-width="1.2" stroke-dasharray="1.2 1.6" fill="none"/>
<rect x="499.85" y="419.55" width="5.9" height="5.9" fill="#000000"/><rect x="476.05" y="436.25" width="5.9" height="5.9" fill="#000000"/><rect x="459.05" y="449.85" width="5.9" height="5.9" fill="#000000"/><rect x="530.25" y="447.85" width="5.9" height="5.9" fill="#000000"/><rect x="525.75" y="460.35" width="5.9" height="5.9" fill="#000000"/><rect x="486.05" y="461.25" width="5.9" height="5.9" fill="#000000"/><rect x="501.05" y="459.75" width="5.9" height="5.9" fill="#000000"/><rect x="504.75" y="465.45" width="5.9" height="5.9" fill="#000000"/><rect x="495.15" y="469.95" width="5.9" height="5.9" fill="#000000"/><rect x="486.65" y="469.95" width="5.9" height="5.9" fill="#000000"/><rect x="471.35" y="470.15" width="5.9" height="5.9" fill="#000000"/><rect x="477.25" y="482.45" width="5.9" height="5.9" fill="#000000"/><rect x="467.35" y="489.75" width="5.9" height="5.9" fill="#000000"/><rect x="469.65" y="491.45" width="5.9" height="5.9" fill="#000000"/><rect x="474.35" y="497.05" width="5.9" height="5.9" fill="#000000"/><rect x="499.05" y="494.35" width="5.9" height="5.9" fill="#000000"/><rect x="570.25" y="424.95" width="5.9" height="5.9" fill="#000000"/><rect x="537.35" y="432.55" width="5.9" height="5.9" fill="#000000"/><rect x="572.15" y="443.35" width="5.9" height="5.9" fill="#000000"/><rect x="546.45" y="445.85" width="5.9" height="5.9" fill="#000000"/><rect x="537.65" y="452.35" width="5.9" height="5.9" fill="#000000"/><rect x="545.25" y="462.05" width="5.9" height="5.9" fill="#000000"/><rect x="545.25" y="465.45" width="5.9" height="5.9" fill="#000000"/><rect x="551.75" y="472.75" width="5.9" height="5.9" fill="#000000"/><rect x="560.05" y="475.65" width="5.9" height="5.9" fill="#000000"/><rect x="630.95" y="461.75" width="5.9" height="5.9" fill="#000000"/>
<rect x="486.05" y="416.35" width="5.9" height="5.9" fill="#ff0000"/><rect x="494.25" y="426.55" width="5.9" height="5.9" fill="#ff0000"/><rect x="511.35" y="435.95" width="5.9" height="5.9" fill="#ff0000"/><rect x="517.75" y="452.65" width="5.9" height="5.9" fill="#ff0000"/><rect x="525.15" y="458.05" width="5.9" height="5.9" fill="#ff0000"/><rect x="520.05" y="461.25" width="5.9" height="5.9" fill="#ff0000"/><rect x="499.95" y="465.75" width="5.9" height="5.9" fill="#ff0000"/><rect x="491.15" y="467.15" width="5.9" height="5.9" fill="#ff0000"/><rect x="469.05" y="477.35" width="5.9" height="5.9" fill="#ff0000"/><rect x="513.05" y="479.05" width="5.9" height="5.9" fill="#ff0000"/><rect x="463.95" y="503.05" width="5.9" height="5.9" fill="#ff0000"/><rect x="549.85" y="435.65" width="5.9" height="5.9" fill="#ff0000"/><rect x="583.25" y="445.35" width="5.9" height="5.9" fill="#ff0000"/><rect x="599.75" y="448.95" width="5.9" height="5.9" fill="#ff0000"/><rect x="557.45" y="479.05" width="5.9" height="5.9" fill="#ff0000"/><rect x="542.45" y="486.15" width="5.9" height="5.9" fill="#ff0000"/><rect x="536.25" y="493.15" width="5.9" height="5.9" fill="#ff0000"/><rect x="665.75" y="450.25" width="5.9" height="5.9" fill="#ff0000"/>
<rect x="526.45" y="417.05" width="5.9" height="5.9" fill="#00ff00"/><rect x="476.75" y="431.05" width="5.9" height="5.9" fill="#00ff00"/><rect x="504.45" y="431.75" width="5.9" height="5.9" fill="#00ff00"/><rect x="505.05" y="446.95" width="5.9" height="5.9" fill="#00ff00"/><rect x="491.95" y="452.05" width="5.9" height="5.9" fill="#00ff00"/><rect x="518.35" y="458.05" width="5.9" height="5.9" fill="#00ff00"/><rect x="489.25" y="468.85" width="5.9" height="5.9" fill="#00ff00"/><rect x="489.25" y="472.75" width="5.9" height="5.9" fill="#00ff00"/><rect x="454.55" y="486.95" width="5.9" height="5.9" fill="#00ff00"/><rect x="463.95" y="493.75" width="5.9" height="5.9" fill="#00ff00"/><rect x="481.05" y="493.75" width="5.9" height="5.9" fill="#00ff00"/><rect x="486.25" y="497.85" width="5.9" height="5.9" fill="#00ff00"/><rect x="516.05" y="473.95" width="5.9" height="5.9" fill="#00ff00"/><rect x="576.25" y="421.25" width="5.9" height="5.9" fill="#00ff00"/><rect x="536.25" y="429.15" width="5.9" height="5.9" fill="#00ff00"/><rect x="535.45" y="439.35" width="5.9" height="5.9" fill="#00ff00"/><rect x="543.25" y="454.45" width="5.9" height="5.9" fill="#00ff00"/><rect x="565.45" y="483.15" width="5.9" height="5.9" fill="#00ff00"/>
<rect x="432.65" y="364.15" width="5.9" height="5.9" fill="#000000"/><rect x="485.75" y="364.15" width="5.9" height="5.9" fill="#ff0000"/><rect x="537.45" y="364.15" width="5.9" height="5.9" fill="#00ff00"/>
<text x="451.20" y="370.90" font-size="10.4" font-weight="bold">LAD</text><text x="504.20" y="370.90" font-size="10.4" font-weight="bold">LCx</text><text x="556.50" y="370.90" font-size="10.4" font-weight="bold">RCA</text>
<text x="432.00" y="385.00" font-size="10.8" font-weight="bold">Upper LOA = +0.71</text>
<text x="432.00" y="398.60" font-size="10.8" font-weight="bold">Mean Error = 0.00</text>
<text x="432.00" y="412.30" font-size="10.8" font-weight="bold">Lower LOA = -0.70</text>
<line x1="416.00" y1="757.88" x2="687.20" y2="757.88" stroke="#a4a4a4" stroke-width="1.2" stroke-dasharray="1.2 1.6" fill="none"/>
<line x1="416.00" y1="783.22" x2="687.20" y2="783.22" stroke="#a4a4a4" stroke-width="1.2" stroke-dasharray="1.2 1.6" fill="none"/>
<line x1="416.00" y1="807.92" x2="687.20" y2="807.92" stroke="#a4a4a4" stroke-width="1.2" stroke-dasharray="1.2 1.6" fill="none"/>
<path d="M449.10 758.20L453.35 765.40L444.85 765.40Z" fill="#000000"/><path d="M451.20 761.20L455.45 768.40L446.95 768.40Z" fill="#000000"/><path d="M457.90 768.10L462.15 775.30L453.65 775.30Z" fill="#000000"/><path d="M445.20 772.00L449.45 779.20L440.95 779.20Z" fill="#000000"/><path d="M436.10 775.50L440.35 782.70L431.85 782.70Z" fill="#000000"/><path d="M434.80 778.50L439.05 785.70L430.55 785.70Z" fill="#000000"/><path d="M445.60 779.30L449.85 786.50L441.35 786.50Z" fill="#000000"/><path d="M455.10 778.90L459.35 786.10L450.85 786.10Z" fill="#000000"/><path d="M454.70 795.70L458.95 802.90L450.45 802.90Z" fill="#000000"/><path d="M460.70 796.60L464.95 803.80L456.45 803.80Z" fill="#000000"/>
<path d="M438.10 767.10L442.35 774.30L433.85 774.30Z" fill="#ff0000"/><path d="M448.90 766.40L453.15 773.60L444.65 773.60Z" fill="#ff0000"/><path d="M465.40 766.40L469.65 773.60L461.15 773.60Z" fill="#ff0000"/><path d="M451.60 776.70L455.85 783.90L447.35 783.90Z" fill="#ff0000"/><path d="M431.80 783.20L436.05 790.40L427.55 790.40Z" fill="#ff0000"/><path d="M447.30 788.40L451.55 795.60L443.05 795.60Z" fill="#ff0000"/><path d="M446.00 791.40L450.25 798.60L441.75 798.60Z" fill="#ff0000"/><path d="M442.20 795.30L446.45 802.50L437.95 802.50Z" fill="#ff0000"/>
<path d="M457.50 761.90L461.75 769.10L453.25 769.10Z" fill="#00ff00"/><path d="M427.90 766.80L432.15 774.00L423.65 774.00Z" fill="#00ff00"/><path d="M427.10 772.00L431.35 779.20L422.85 779.20Z" fill="#00ff00"/><path d="M440.90 772.40L445.15 779.60L436.65 779.60Z" fill="#00ff00"/><path d="M440.00 783.20L444.25 790.40L435.75 790.40Z" fill="#00ff00"/><path d="M425.30 786.20L429.55 793.40L421.05 793.40Z" fill="#00ff00"/><path d="M443.00 811.70L447.25 818.90L438.75 818.90Z" fill="#00ff00"/>
<path d="M435.60 679.20L439.85 686.40L431.35 686.40Z" fill="#000000"/><path d="M488.60 679.20L492.85 686.40L484.35 686.40Z" fill="#ff0000"/><path d="M540.30 679.20L544.55 686.40L536.05 686.40Z" fill="#00ff00"/>
<text x="451.20" y="687.40" font-size="10.4" font-weight="bold">LAD</text><text x="504.20" y="687.40" font-size="10.4" font-weight="bold">LCx</text><text x="556.00" y="687.40" font-size="10.4" font-weight="bold">RCA</text>
<text x="432.00" y="701.50" font-size="10.8" font-weight="bold">Upper LOA = +0.32</text>
<text x="432.00" y="715.40" font-size="10.8" font-weight="bold">Mean Error = -0.08</text>
<text x="432.00" y="729.00" font-size="10.8" font-weight="bold">Lower LOA = -0.47</text>
<rect x="39.7" y="36.5" width="273.70" height="220.80" fill="none" stroke="#000" stroke-width="2.6"/>
<path d="M39.70 257.30v-4.3 M39.70 36.50v4.3 M53.39 257.30v-2.6 M53.39 36.50v2.6 M67.07 257.30v-4.3 M67.07 36.50v4.3 M80.75 257.30v-2.6 M80.75 36.50v2.6 M94.44 257.30v-4.3 M94.44 36.50v4.3 M108.12 257.30v-2.6 M108.12 36.50v2.6 M121.81 257.30v-4.3 M121.81 36.50v4.3 M135.50 257.30v-2.6 M135.50 36.50v2.6 M149.18 257.30v-4.3 M149.18 36.50v4.3 M162.87 257.30v-2.6 M162.87 36.50v2.6 M176.55 257.30v-4.3 M176.55 36.50v4.3 M190.24 257.30v-2.6 M190.24 36.50v2.6 M203.92 257.30v-4.3 M203.92 36.50v4.3 M217.61 257.30v-2.6 M217.61 36.50v2.6 M231.29 257.30v-4.3 M231.29 36.50v4.3 M244.97 257.30v-2.6 M244.97 36.50v2.6 M258.66 257.30v-4.3 M258.66 36.50v4.3 M272.34 257.30v-2.6 M272.34 36.50v2.6 M286.03 257.30v-4.3 M286.03 36.50v4.3 M299.71 257.30v-2.6 M299.71 36.50v2.6 M313.40 257.30v-4.3 M313.40 36.50v4.3 M39.70 257.30h4.3 M313.40 257.30h-4.3 M39.70 246.26h2.6 M313.40 246.26h-2.6 M39.70 235.22h4.3 M313.40 235.22h-4.3 M39.70 224.18h2.6 M313.40 224.18h-2.6 M39.70 213.14h4.3 M313.40 213.14h-4.3 M39.70 202.10h2.6 M313.40 202.10h-2.6 M39.70 191.06h4.3 M313.40 191.06h-4.3 M39.70 180.02h2.6 M313.40 180.02h-2.6 M39.70 168.98h4.3 M313.40 168.98h-4.3 M39.70 157.94h2.6 M313.40 157.94h-2.6 M39.70 146.90h4.3 M313.40 146.90h-4.3 M39.70 135.86h2.6 M313.40 135.86h-2.6 M39.70 124.82h4.3 M313.40 124.82h-4.3 M39.70 113.78h2.6 M313.40 113.78h-2.6 M39.70 102.74h4.3 M313.40 102.74h-4.3 M39.70 91.70h2.6 M313.40 91.70h-2.6 M39.70 80.66h4.3 M313.40 80.66h-4.3 M39.70 69.62h2.6 M313.40 69.62h-2.6 M39.70 58.58h4.3 M313.40 58.58h-4.3 M39.70 47.54h2.6 M313.40 47.54h-2.6 M39.70 36.50h4.3 M313.40 36.50h-4.3" stroke="#000" stroke-width="2.0" fill="none"/>
<rect x="414.7" y="36.6" width="273.90" height="222.90" fill="none" stroke="#000" stroke-width="2.6"/>
<path d="M414.70 259.50v-4.3 M414.70 36.60v4.3 M428.39 259.50v-2.6 M428.39 36.60v2.6 M442.09 259.50v-4.3 M442.09 36.60v4.3 M455.78 259.50v-2.6 M455.78 36.60v2.6 M469.48 259.50v-4.3 M469.48 36.60v4.3 M483.18 259.50v-2.6 M483.18 36.60v2.6 M496.87 259.50v-4.3 M496.87 36.60v4.3 M510.56 259.50v-2.6 M510.56 36.60v2.6 M524.26 259.50v-4.3 M524.26 36.60v4.3 M537.96 259.50v-2.6 M537.96 36.60v2.6 M551.65 259.50v-4.3 M551.65 36.60v4.3 M565.35 259.50v-2.6 M565.35 36.60v2.6 M579.04 259.50v-4.3 M579.04 36.60v4.3 M592.74 259.50v-2.6 M592.74 36.60v2.6 M606.43 259.50v-4.3 M606.43 36.60v4.3 M620.12 259.50v-2.6 M620.12 36.60v2.6 M633.82 259.50v-4.3 M633.82 36.60v4.3 M647.51 259.50v-2.6 M647.51 36.60v2.6 M661.21 259.50v-4.3 M661.21 36.60v4.3 M674.90 259.50v-2.6 M674.90 36.60v2.6 M688.60 259.50v-4.3 M688.60 36.60v4.3 M414.70 259.50h2.6 M688.60 259.50h-2.6 M414.70 243.58h4.3 M688.60 243.58h-4.3 M414.70 227.66h2.6 M688.60 227.66h-2.6 M414.70 211.74h4.3 M688.60 211.74h-4.3 M414.70 195.81h2.6 M688.60 195.81h-2.6 M414.70 179.89h4.3 M688.60 179.89h-4.3 M414.70 163.97h2.6 M688.60 163.97h-2.6 M414.70 148.05h4.3 M688.60 148.05h-4.3 M414.70 132.13h2.6 M688.60 132.13h-2.6 M414.70 116.21h4.3 M688.60 116.21h-4.3 M414.70 100.29h2.6 M688.60 100.29h-2.6 M414.70 84.36h4.3 M688.60 84.36h-4.3 M414.70 68.44h2.6 M688.60 68.44h-2.6 M414.70 52.52h4.3 M688.60 52.52h-4.3 M414.70 36.60h2.6 M688.60 36.60h-2.6" stroke="#000" stroke-width="2.0" fill="none"/>
<rect x="39.7" y="352.8" width="273.70" height="221.60" fill="none" stroke="#000" stroke-width="2.6"/>
<path d="M39.70 574.40v-4.3 M39.70 352.80v4.3 M53.39 574.40v-2.6 M53.39 352.80v2.6 M67.07 574.40v-4.3 M67.07 352.80v4.3 M80.75 574.40v-2.6 M80.75 352.80v2.6 M94.44 574.40v-4.3 M94.44 352.80v4.3 M108.12 574.40v-2.6 M108.12 352.80v2.6 M121.81 574.40v-4.3 M121.81 352.80v4.3 M135.50 574.40v-2.6 M135.50 352.80v2.6 M149.18 574.40v-4.3 M149.18 352.80v4.3 M162.87 574.40v-2.6 M162.87 352.80v2.6 M176.55 574.40v-4.3 M176.55 352.80v4.3 M190.24 574.40v-2.6 M190.24 352.80v2.6 M203.92 574.40v-4.3 M203.92 352.80v4.3 M217.61 574.40v-2.6 M217.61 352.80v2.6 M231.29 574.40v-4.3 M231.29 352.80v4.3 M244.97 574.40v-2.6 M244.97 352.80v2.6 M258.66 574.40v-4.3 M258.66 352.80v4.3 M272.34 574.40v-2.6 M272.34 352.80v2.6 M286.03 574.40v-4.3 M286.03 352.80v4.3 M299.71 574.40v-2.6 M299.71 352.80v2.6 M313.40 574.40v-4.3 M313.40 352.80v4.3 M39.70 574.40h4.3 M313.40 574.40h-4.3 M39.70 563.32h2.6 M313.40 563.32h-2.6 M39.70 552.24h4.3 M313.40 552.24h-4.3 M39.70 541.16h2.6 M313.40 541.16h-2.6 M39.70 530.08h4.3 M313.40 530.08h-4.3 M39.70 519.00h2.6 M313.40 519.00h-2.6 M39.70 507.92h4.3 M313.40 507.92h-4.3 M39.70 496.84h2.6 M313.40 496.84h-2.6 M39.70 485.76h4.3 M313.40 485.76h-4.3 M39.70 474.68h2.6 M313.40 474.68h-2.6 M39.70 463.60h4.3 M313.40 463.60h-4.3 M39.70 452.52h2.6 M313.40 452.52h-2.6 M39.70 441.44h4.3 M313.40 441.44h-4.3 M39.70 430.36h2.6 M313.40 430.36h-2.6 M39.70 419.28h4.3 M313.40 419.28h-4.3 M39.70 408.20h2.6 M313.40 408.20h-2.6 M39.70 397.12h4.3 M313.40 397.12h-4.3 M39.70 386.04h2.6 M313.40 386.04h-2.6 M39.70 374.96h4.3 M313.40 374.96h-4.3 M39.70 363.88h2.6 M313.40 363.88h-2.6 M39.70 352.80h4.3 M313.40 352.80h-4.3" stroke="#000" stroke-width="2.0" fill="none"/>
<rect x="414.7" y="352.8" width="273.80" height="221.70" fill="none" stroke="#000" stroke-width="2.6"/>
<path d="M414.70 574.50v-4.3 M414.70 352.80v4.3 M428.39 574.50v-2.6 M428.39 352.80v2.6 M442.08 574.50v-4.3 M442.08 352.80v4.3 M455.77 574.50v-2.6 M455.77 352.80v2.6 M469.46 574.50v-4.3 M469.46 352.80v4.3 M483.15 574.50v-2.6 M483.15 352.80v2.6 M496.84 574.50v-4.3 M496.84 352.80v4.3 M510.53 574.50v-2.6 M510.53 352.80v2.6 M524.22 574.50v-4.3 M524.22 352.80v4.3 M537.91 574.50v-2.6 M537.91 352.80v2.6 M551.60 574.50v-4.3 M551.60 352.80v4.3 M565.29 574.50v-2.6 M565.29 352.80v2.6 M578.98 574.50v-4.3 M578.98 352.80v4.3 M592.67 574.50v-2.6 M592.67 352.80v2.6 M606.36 574.50v-4.3 M606.36 352.80v4.3 M620.05 574.50v-2.6 M620.05 352.80v2.6 M633.74 574.50v-4.3 M633.74 352.80v4.3 M647.43 574.50v-2.6 M647.43 352.80v2.6 M661.12 574.50v-4.3 M661.12 352.80v4.3 M674.81 574.50v-2.6 M674.81 352.80v2.6 M688.50 574.50v-4.3 M688.50 352.80v4.3 M414.70 574.50h2.6 M688.50 574.50h-2.6 M414.70 558.66h4.3 M688.50 558.66h-4.3 M414.70 542.83h2.6 M688.50 542.83h-2.6 M414.70 526.99h4.3 M688.50 526.99h-4.3 M414.70 511.16h2.6 M688.50 511.16h-2.6 M414.70 495.32h4.3 M688.50 495.32h-4.3 M414.70 479.49h2.6 M688.50 479.49h-2.6 M414.70 463.65h4.3 M688.50 463.65h-4.3 M414.70 447.81h2.6 M688.50 447.81h-2.6 M414.70 431.98h4.3 M688.50 431.98h-4.3 M414.70 416.14h2.6 M688.50 416.14h-2.6 M414.70 400.31h4.3 M688.50 400.31h-4.3 M414.70 384.47h2.6 M688.50 384.47h-2.6 M414.70 368.64h4.3 M688.50 368.64h-4.3 M414.70 352.80h2.6 M688.50 352.80h-2.6" stroke="#000" stroke-width="2.0" fill="none"/>
<rect x="39.7" y="667.1" width="273.70" height="221.90" fill="none" stroke="#000" stroke-width="2.6"/>
<path d="M39.70 889.00v-4.3 M39.70 667.10v4.3 M53.39 889.00v-2.6 M53.39 667.10v2.6 M67.07 889.00v-4.3 M67.07 667.10v4.3 M80.75 889.00v-2.6 M80.75 667.10v2.6 M94.44 889.00v-4.3 M94.44 667.10v4.3 M108.12 889.00v-2.6 M108.12 667.10v2.6 M121.81 889.00v-4.3 M121.81 667.10v4.3 M135.50 889.00v-2.6 M135.50 667.10v2.6 M149.18 889.00v-4.3 M149.18 667.10v4.3 M162.87 889.00v-2.6 M162.87 667.10v2.6 M176.55 889.00v-4.3 M176.55 667.10v4.3 M190.24 889.00v-2.6 M190.24 667.10v2.6 M203.92 889.00v-4.3 M203.92 667.10v4.3 M217.61 889.00v-2.6 M217.61 667.10v2.6 M231.29 889.00v-4.3 M231.29 667.10v4.3 M244.97 889.00v-2.6 M244.97 667.10v2.6 M258.66 889.00v-4.3 M258.66 667.10v4.3 M272.34 889.00v-2.6 M272.34 667.10v2.6 M286.03 889.00v-4.3 M286.03 667.10v4.3 M299.71 889.00v-2.6 M299.71 667.10v2.6 M313.40 889.00v-4.3 M313.40 667.10v4.3 M39.70 889.00h4.3 M313.40 889.00h-4.3 M39.70 877.90h2.6 M313.40 877.90h-2.6 M39.70 866.81h4.3 M313.40 866.81h-4.3 M39.70 855.72h2.6 M313.40 855.72h-2.6 M39.70 844.62h4.3 M313.40 844.62h-4.3 M39.70 833.52h2.6 M313.40 833.52h-2.6 M39.70 822.43h4.3 M313.40 822.43h-4.3 M39.70 811.34h2.6 M313.40 811.34h-2.6 M39.70 800.24h4.3 M313.40 800.24h-4.3 M39.70 789.14h2.6 M313.40 789.14h-2.6 M39.70 778.05h4.3 M313.40 778.05h-4.3 M39.70 766.96h2.6 M313.40 766.96h-2.6 M39.70 755.86h4.3 M313.40 755.86h-4.3 M39.70 744.76h2.6 M313.40 744.76h-2.6 M39.70 733.67h4.3 M313.40 733.67h-4.3 M39.70 722.58h2.6 M313.40 722.58h-2.6 M39.70 711.48h4.3 M313.40 711.48h-4.3 M39.70 700.38h2.6 M313.40 700.38h-2.6 M39.70 689.29h4.3 M313.40 689.29h-4.3 M39.70 678.20h2.6 M313.40 678.20h-2.6 M39.70 667.10h4.3 M313.40 667.10h-4.3" stroke="#000" stroke-width="2.0" fill="none"/>
<rect x="414.7" y="667.3" width="273.80" height="221.70" fill="none" stroke="#000" stroke-width="2.6"/>
<path d="M414.70 889.00v-4.3 M414.70 667.30v4.3 M428.39 889.00v-2.6 M428.39 667.30v2.6 M442.08 889.00v-4.3 M442.08 667.30v4.3 M455.77 889.00v-2.6 M455.77 667.30v2.6 M469.46 889.00v-4.3 M469.46 667.30v4.3 M483.15 889.00v-2.6 M483.15 667.30v2.6 M496.84 889.00v-4.3 M496.84 667.30v4.3 M510.53 889.00v-2.6 M510.53 667.30v2.6 M524.22 889.00v-4.3 M524.22 667.30v4.3 M537.91 889.00v-2.6 M537.91 667.30v2.6 M551.60 889.00v-4.3 M551.60 667.30v4.3 M565.29 889.00v-2.6 M565.29 667.30v2.6 M578.98 889.00v-4.3 M578.98 667.30v4.3 M592.67 889.00v-2.6 M592.67 667.30v2.6 M606.36 889.00v-4.3 M606.36 667.30v4.3 M620.05 889.00v-2.6 M620.05 667.30v2.6 M633.74 889.00v-4.3 M633.74 667.30v4.3 M647.43 889.00v-2.6 M647.43 667.30v2.6 M661.12 889.00v-4.3 M661.12 667.30v4.3 M674.81 889.00v-2.6 M674.81 667.30v2.6 M688.50 889.00v-4.3 M688.50 667.30v4.3 M414.70 889.00h2.6 M688.50 889.00h-2.6 M414.70 873.16h4.3 M688.50 873.16h-4.3 M414.70 857.33h2.6 M688.50 857.33h-2.6 M414.70 841.49h4.3 M688.50 841.49h-4.3 M414.70 825.66h2.6 M688.50 825.66h-2.6 M414.70 809.82h4.3 M688.50 809.82h-4.3 M414.70 793.99h2.6 M688.50 793.99h-2.6 M414.70 778.15h4.3 M688.50 778.15h-4.3 M414.70 762.31h2.6 M688.50 762.31h-2.6 M414.70 746.48h4.3 M688.50 746.48h-4.3 M414.70 730.64h2.6 M688.50 730.64h-2.6 M414.70 714.81h4.3 M688.50 714.81h-4.3 M414.70 698.97h2.6 M688.50 698.97h-2.6 M414.70 683.14h4.3 M688.50 683.14h-4.3 M414.70 667.30h2.6 M688.50 667.30h-2.6" stroke="#000" stroke-width="2.0" fill="none"/>
</svg></body></html>
